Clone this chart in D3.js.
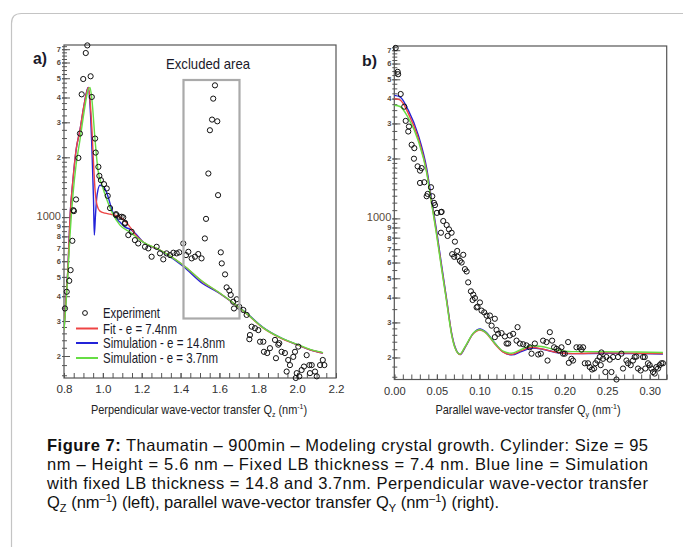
<!DOCTYPE html>
<html><head><meta charset="utf-8">
<script src="https://cdn.jsdelivr.net/npm/d3@7"></script>
<style>body{margin:0;background:#fff}svg{display:block}</style>
</head><body>
<svg id="c" width="683" height="547"></svg>
<script>
// ---------- DATA ----------
const aXTickLabels = ["0.8","1.0","1.2","1.4","1.6","1.8","2.0","2.2"];
const aXTicks = [0.8,1.0,1.2,1.4,1.6,1.8,2.0,2.2];
const bXTickLabels = ["0.00","0.05","0.10","0.15","0.20","0.25","0.30"];
const bXTicks = [0,0.05,0.10,0.15,0.20,0.25,0.30];
const yTicks = [200,300,400,500,600,700,800,900,1000,2000,3000,4000,5000,6000,7000];
const yTickLabels = ["2","3","4","5","6","7","8","9","1000","2","3","4","5","6","7"];

const aExperiment = [[0.805,347],[0.814,421],[0.827,478],[0.834,541],[0.843,760],[0.848,1084],[0.851,1072],[0.862,1227],[0.874,1986],[0.882,2634],[0.891,4150],[0.899,4955],[0.912,6698],[0.920,7315],[0.937,5115],[0.943,4025],[0.960,2485],[0.963,2113],[0.977,1790],[0.982,1613],[0.990,1535],[1.006,1465],[1.020,1394],[1.025,1280],[1.037,1110],[1.068,1035],[1.068,1023],[1.085,1004],[1.097,1004],[1.105,997],[1.114,936],[1.114,927],[1.131,812],[1.148,844],[1.165,766],[1.182,737],[1.217,709],[1.234,696],[1.251,632],[1.277,709],[1.294,657],[1.311,613],[1.328,657],[1.346,644],[1.363,662],[1.380,657],[1.393,665],[1.414,737],[1.428,644],[1.440,669],[1.457,620],[1.474,632],[1.491,652],[1.508,620],[1.525,781],[1.531,980],[1.543,1658],[1.551,2737],[1.562,3097],[1.568,3948],[1.577,4605],[1.589,3036],[1.593,1290],[1.607,665],[1.612,585],[1.629,515],[1.637,443],[1.651,427],[1.658,406],[1.671,375],[1.675,347],[1.689,386],[1.702,354],[1.723,341],[1.740,322],[1.754,243],[1.757,255],[1.766,281],[1.783,276],[1.800,270],[1.809,236],[1.826,236],[1.829,210],[1.846,207],[1.860,219],[1.886,241],[1.891,195],[1.903,228],[1.908,232],[1.920,210],[1.937,207],[1.946,167],[1.954,191],[1.963,180],[1.980,198],[1.989,210],[1.993,155],[1.998,164],[2.006,223],[2.011,158],[2.023,170],[2.035,177],[2.049,202],[2.063,180],[2.066,164],[2.075,180],[2.092,167],[2.101,158],[2.118,180],[2.132,191],[2.140,180]];

const aFit = [[0.80,270],[0.81,383],[0.821,574],[0.831,1000],[0.846,1534],[0.862,2170],[0.882,2740],[0.903,3653],[0.926,4500],[0.934,3870],[0.944,2736],[0.952,1867],[0.960,1366],[0.970,1149],[0.985,1072],[1.011,1047],[1.037,1035],[1.062,1023],[1.088,1000],[1.114,955],[1.14,891],[1.165,821],[1.207,749],[1.294,683],[1.413,574],[1.515,471],[1.593,420],[1.670,370],[1.747,322],[1.824,277],[1.912,247],[2.0,228],[2.066,215],[2.133,207]];
const aSim148 = [[0.80,270],[0.81,383],[0.821,574],[0.831,1000],[0.846,1534],[0.862,2170],[0.882,2740],[0.903,3653],[0.924,4500],[0.934,3653],[0.944,2170],[0.952,1217],[0.956,812],[0.962,1023],[0.970,1290],[0.985,1448],[1.006,1415],[1.026,1275],[1.047,1084],[1.068,988],[1.088,944],[1.114,891],[1.14,870],[1.165,831],[1.207,749],[1.294,680],[1.413,566],[1.515,462],[1.593,418],[1.670,370],[1.747,324],[1.824,279],[1.912,248],[2.0,228],[2.066,215],[2.133,207]];
const aSim37 = [[0.80,270],[0.81,361],[0.821,541],[0.831,812],[0.846,1290],[0.862,1825],[0.882,2437],[0.903,3368],[0.924,4350],[0.934,4500],[0.944,3870],[0.960,2437],[0.975,1722],[0.996,1448],[1.016,1260],[1.047,1060],[1.088,912],[1.14,840],[1.207,749],[1.294,683],[1.413,574],[1.515,473],[1.593,421],[1.670,371],[1.747,323],[1.824,278],[1.912,248],[2.0,229],[2.066,216],[2.133,208]];

const bExperiment = [[0.0016,7186],[0.004,5451],[0.0045,5300],[0.0075,4217],[0.0117,3643],[0.0134,3090],[0.0172,2894],[0.0164,2733],[0.0204,2344],[0.0235,2254],[0.0231,1995],[0.0274,1826],[0.0302,1738],[0.0321,1790],[0.0302,1507],[0.0352,1519],[0.038,1292],[0.0392,1327],[0.0431,1434],[0.0446,1292],[0.0466,1197],[0.0478,1166],[0.0501,1066],[0.0548,1075],[0.0556,1079],[0.0575,970],[0.0548,847],[0.0615,926],[0.0642,881],[0.0673,847],[0.0626,816],[0.0712,764],[0.068,661],[0.0739,686],[0.0704,641],[0.0744,641],[0.0771,612],[0.0791,600],[0.081,656],[0.083,556],[0.085,541],[0.0868,477],[0.09,430],[0.0927,414],[0.092,389],[0.0947,398],[0.0978,360],[0.0967,357],[0.1006,378],[0.1025,344],[0.1056,337],[0.1084,325],[0.1123,325],[0.1103,306],[0.1143,289],[0.1181,313],[0.1201,275],[0.126,265],[0.122,263],[0.1181,253],[0.1299,255],[0.1319,235],[0.1338,235],[0.1357,258],[0.1396,263],[0.1448,284],[0.1436,243],[0.1475,235],[0.1514,233],[0.1553,230],[0.1592,225],[0.1612,209],[0.1651,235],[0.169,207],[0.1721,209],[0.1748,243],[0.1788,239],[0.18,193],[0.1827,268],[0.1854,243],[0.1877,225],[0.1905,221],[0.1932,217],[0.1964,225],[0.1983,209],[0.2003,209],[0.2042,239],[0.205,188],[0.2081,197],[0.21,193],[0.214,225],[0.2179,225],[0.2199,219],[0.2218,225],[0.2238,187],[0.2276,187],[0.2296,179],[0.2323,174],[0.2347,176],[0.2363,187],[0.2386,193],[0.2413,201],[0.2433,212],[0.2452,197],[0.2425,183],[0.2492,201],[0.248,169],[0.2551,169],[0.2531,195],[0.257,201],[0.261,155],[0.2628,201],[0.2668,209],[0.2687,176],[0.2727,193],[0.2745,187],[0.2777,183],[0.2804,193],[0.2824,201],[0.2844,202],[0.2863,176],[0.2894,172],[0.2922,201],[0.2942,201],[0.2949,176],[0.298,187],[0.3,183],[0.302,176],[0.3039,169],[0.3059,166],[0.3079,179],[0.3098,176],[0.3117,183],[0.3137,187],[0.3156,187]];

const bFit = [[0,4000],[0.0067,3936],[0.0164,3373],[0.0282,2529],[0.038,1724],[0.0439,1197],[0.0498,835],[0.0556,566],[0.0615,386],[0.0673,263],[0.0712,225],[0.0771,207],[0.083,225],[0.0927,263],[0.1006,275],[0.1065,268],[0.1181,234],[0.1279,213],[0.1377,207],[0.1495,217],[0.1612,225],[0.173,221],[0.1886,213],[0.2081,209],[0.2472,211],[0.2863,210],[0.3156,209]];
const bSim148 = [[0,4150],[0.0067,4080],[0.0164,3500],[0.0282,2620],[0.038,1790],[0.0439,1240],[0.0498,860],[0.0556,580],[0.0615,392],[0.0673,266],[0.0712,227],[0.0775,207],[0.0835,226],[0.093,265],[0.101,278],[0.107,270],[0.1185,235],[0.128,213],[0.138,206],[0.15,215],[0.162,223],[0.174,220],[0.19,212],[0.21,209],[0.25,210],[0.29,209],[0.3156,208]];
const bSim37 = [[0,3700],[0.0067,3650],[0.0164,3200],[0.0282,2450],[0.038,1700],[0.0439,1180],[0.0498,820],[0.0556,556],[0.0615,380],[0.0673,260],[0.0712,224],[0.0771,208],[0.083,226],[0.0927,265],[0.1006,276],[0.1065,269],[0.1181,236],[0.1279,215],[0.1377,210],[0.1495,220],[0.1612,229],[0.173,227],[0.1886,219],[0.2081,214],[0.2472,214],[0.2863,213],[0.3156,212]];

const legendLabels = ["Experiment","Fit - e = 7.4nm","Simulation - e = 14.8nm","Simulation - e = 3.7nm"];

// ---------- STYLE ----------
const SANS = "'Liberation Sans',Arial,sans-serif";
const COL = {fit:"#ee4444", s148:"#2323d8", s37:"#66dd44", axis:"#555"};
const yDomain = [155, 7350];
const legendWidths = [57,74,122,115];

const svg = d3.select("#c");
svg.append("path").attr("d","M11.5,560 V23.5 Q11.5,13.5 21.5,13.5 H700")
  .attr("fill","none").attr("stroke","#c4c4c4").attr("stroke-width",1.2);

function drawPanel(cfg){
  const g = svg.append("g");
  const x = d3.scaleLinear().domain(cfg.xDomain).range([cfg.left, cfg.right]);
  const y = d3.scaleLog().domain(yDomain).range([cfg.bottom, cfg.top]);

  const xMinorAx = d3.axisBottom(x).tickValues(d3.range(cfg.xDomain[0], cfg.xDomain[1]+1e-9, cfg.xMinorStep)).tickSize(-5).tickFormat("");
  g.append("g").attr("transform",`translate(0,${cfg.bottom})`).call(xMinorAx)
    .call(s=>s.select(".domain").remove()).call(s=>s.selectAll("line").attr("stroke",COL.axis));
  const xMajAx = d3.axisBottom(x).tickValues(cfg.xTicks).tickSize(-5).tickPadding(7)
    .tickFormat((d,i)=>cfg.xLabels[i]);
  g.append("g").attr("transform",`translate(0,${cfg.bottom})`).call(xMajAx)
    .call(s=>s.select(".domain").remove())
    .call(s=>s.selectAll("line").attr("stroke",COL.axis))
    .call(s=>s.selectAll("text").attr("font-family",SANS).attr("font-size",11.5).attr("fill","#333")
      .attr("textLength",(d,i)=>cfg.xLabels[i].length*5.4).attr("lengthAdjust","spacingAndGlyphs"));

  const minorY = d3.range(160,300,20).concat(d3.range(300,1000,50)).concat(d3.range(1000,2000,100)).concat(d3.range(2000,7400,250));
  const yMinAx = d3.axisLeft(y).tickValues(minorY).tickSize(-3).tickFormat("");
  g.append("g").attr("transform",`translate(${cfg.left},0)`).call(yMinAx)
    .call(s=>s.select(".domain").remove())
    .call(s=>s.selectAll("line").attr("x1",-2).attr("stroke",COL.axis));
  const yMajAx = d3.axisLeft(y).tickValues(yTicks).tickSize(-6).tickPadding(3)
    .tickFormat((d,i)=>yTickLabels[i]);
  g.append("g").attr("transform",`translate(${cfg.left},0)`).call(yMajAx)
    .call(s=>s.select(".domain").remove())
    .call(s=>s.selectAll("line").attr("x1",-2).attr("stroke",COL.axis))
    .call(s=>s.selectAll("text").attr("font-family",SANS).attr("fill","#5a4a3a")
       .attr("font-size",d=>d===1000?11:7.5).attr("font-weight",d=>d===1000?"normal":"bold")
       .attr("dy",d=>d===1000?"0.2em":"0.32em"));

  g.append("rect").attr("x",cfg.left).attr("y",cfg.top)
    .attr("width",cfg.right-cfg.left).attr("height",cfg.bottom-cfg.top)
    .attr("fill","none").attr("stroke",COL.axis).attr("stroke-width",1.2);

  const line = d3.line().x(d=>x(d[0])).y(d=>y(d[1])).curve(d3.curveMonotoneX);
  const clip = "clip"+cfg.id;
  g.append("clipPath").attr("id",clip).append("rect").attr("x",cfg.left).attr("y",cfg.top)
    .attr("width",cfg.right-cfg.left).attr("height",cfg.bottom-cfg.top);
  const cg = g.append("g").attr("clip-path",`url(#${clip})`);
  [[cfg.s148,COL.s148],[cfg.fit,COL.fit],[cfg.s37,COL.s37]].forEach(([d,c])=>{
    cg.append("path").datum(d).attr("d",line).attr("fill","none").attr("stroke",c).attr("stroke-width",1.4);
  });
  g.append("g").selectAll("circle").data(cfg.exp).join("circle")
    .attr("cx",d=>x(d[0])).attr("cy",d=>y(d[1])).attr("r",2.6)
    .attr("fill","none").attr("stroke","#111").attr("stroke-width",1);
  return {g,x,y};
}

const A = drawPanel({id:"a",xDomain:[0.8,2.2],left:64,right:336,top:45,bottom:378,xTicks:aXTicks,xLabels:aXTickLabels,xMinorStep:0.05,
  exp:aExperiment,fit:aFit,s148:aSim148,s37:aSim37});
const B = drawPanel({id:"b",xDomain:[0,0.32],left:394.3,right:666.7,top:46,bottom:379.5,xTicks:bXTicks,xLabels:bXTickLabels,xMinorStep:0.01,
  exp:bExperiment,fit:bFit,s148:bSim148,s37:bSim37});

// excluded area box (panel a)
A.g.append("rect").attr("x",183.5).attr("y",80).attr("width",56).attr("height",238.5)
  .attr("fill","none").attr("stroke","#aaa").attr("stroke-width",2.2);
A.g.append("text").attr("x",166).attr("y",69)
  .attr("font-family",SANS).attr("font-size",15).attr("fill","#1a1a2a")
  .attr("textLength",84).attr("lengthAdjust","spacingAndGlyphs").text("Excluded area");

svg.append("text").attr("x",33).attr("y",64).attr("font-family",SANS).attr("font-weight","bold").attr("font-size",17).attr("fill","#1a1a2a")
  .attr("textLength",14).attr("lengthAdjust","spacingAndGlyphs").text("a)");
svg.append("text").attr("x",362).attr("y",66).attr("font-family",SANS).attr("font-weight","bold").attr("font-size",15).attr("fill","#1a1a2a")
  .attr("textLength",15).attr("lengthAdjust","spacingAndGlyphs").text("b)");

// legend
const lg = svg.append("g").attr("font-family",SANS).attr("font-size",14.5).attr("fill","#1a1a2a");
lg.append("circle").attr("cx",85).attr("cy",313).attr("r",2.4).attr("fill","none").attr("stroke","#111");
const legCols = [null,COL.fit,COL.s148,COL.s37];
const legY = [313,328.5,343,358];
legendLabels.forEach((t,i)=>{
  if(legCols[i]) lg.append("line").attr("x1",76).attr("x2",98).attr("y1",legY[i]).attr("y2",legY[i]).attr("stroke",legCols[i]).attr("stroke-width",2);
  lg.append("text").attr("x",103).attr("y",legY[i]+5)
    .attr("textLength",legendWidths[i]).attr("lengthAdjust","spacingAndGlyphs").text(t);
});

// axis titles (horizontally condensed with a scale transform)
function axTitle(cx, base, sub){
  const t = svg.append("text").attr("transform",`translate(${cx},414) scale(0.875,1)`)
    .attr("text-anchor","middle")
    .attr("font-family",SANS).attr("font-size",12.5).attr("fill","#222");
  t.append("tspan").text(base);
  t.append("tspan").attr("dy",3).attr("font-size",8).text(sub);
  t.append("tspan").attr("dy",-3).text(" (nm");
  t.append("tspan").attr("dy",-5).attr("font-size",8).text("-1");
  t.append("tspan").attr("dy",5).text(")");
}
axTitle(199,"Perpendicular wave-vector transfer Q","z");
axTitle(528,"Parallel wave-vector transfer Q","y");

// caption
const cap = svg.append("g").attr("font-family",SANS).attr("font-size",16.5).attr("fill","#111");
const L1 = cap.append("text").attr("x",47).attr("y",451).attr("textLength",601).attr("lengthAdjust","spacing");
L1.append("tspan").attr("font-weight","bold").text("Figure 7:");
L1.append("tspan").text(" Thaumatin – 900min – Modeling crystal growth. Cylinder: Size = 95");
cap.append("text").attr("x",47).attr("y",470).attr("textLength",601).attr("lengthAdjust","spacing")
  .text("nm – Height = 5.6 nm – Fixed LB thickness = 7.4 nm. Blue line = Simulation");
cap.append("text").attr("x",47).attr("y",489).attr("textLength",601).attr("lengthAdjust","spacing")
  .text("with fixed LB thickness = 14.8 and 3.7nm. Perpendicular wave-vector transfer");
const L4 = cap.append("text").attr("x",47).attr("y",508);
L4.append("tspan").text("Q");
L4.append("tspan").attr("dy",4).attr("font-size",11).text("Z");
L4.append("tspan").attr("dy",-4).text(" (nm");
L4.append("tspan").attr("dy",-6).attr("font-size",11).text("–1");
L4.append("tspan").attr("dy",6).text(") (left), parallel wave-vector transfer Q");
L4.append("tspan").attr("dy",4).attr("font-size",11).text("Y");
L4.append("tspan").attr("dy",-4).text(" (nm");
L4.append("tspan").attr("dy",-6).attr("font-size",11).text("–1");
L4.append("tspan").attr("dy",6).text(") (right).");
</script>
</body></html>
